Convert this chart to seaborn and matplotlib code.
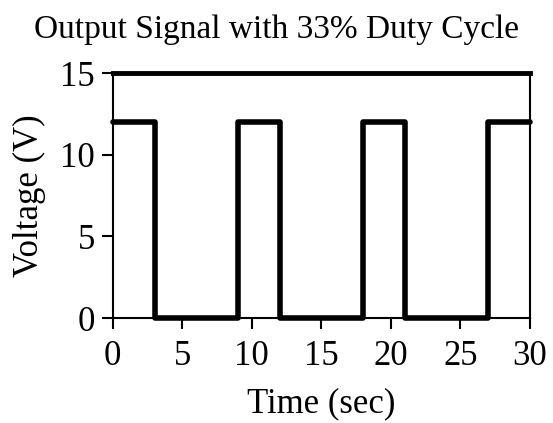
import numpy as np
import matplotlib.pyplot as plt
import pandas as pd
import seaborn as sns

# square wave edges (period 9 s, high for 3 s)
time_sec = [0, 3, 3, 9, 9, 12, 12, 18, 18, 21, 21, 27, 27, 30]
voltage = [12, 12, 0, 0, 12, 12, 0, 0, 12, 12, 0, 0, 12, 12]
x_ticks = [0, 5, 10, 15, 20, 25, 30]
y_ticks = [0, 5, 10, 15]

df = pd.DataFrame({'time': time_sec, 'volt': voltage})

sns.set_style('ticks')
plt.rcParams['font.family'] = ['Liberation Serif', 'DejaVu Serif']
plt.rcParams['text.color'] = 'black'
plt.rcParams['axes.labelcolor'] = 'black'
plt.rcParams['xtick.color'] = 'black'
plt.rcParams['ytick.color'] = 'black'

fig = plt.figure(figsize=(5.53, 4.23), dpi=100)
ax = fig.add_axes([0.204, 0.248, 0.754, 0.579])

sns.lineplot(data=df, x='time', y='volt', sort=False, estimator=None,
             color='black', linewidth=4, ax=ax, clip_on=False)

ax.set_xlim(0, 30)
ax.set_ylim(0, 15)
ax.set_xticks(x_ticks)
ax.set_yticks(y_ticks)
ax.tick_params(labelsize=25, length=8, width=1.5, direction='out', colors='black', pad=5)
ax.tick_params(axis='x', pad=8)
ax.set_xlabel('Time (sec)', fontsize=25, labelpad=10, color='black')
ax.set_ylabel('Voltage (V)', fontsize=25, labelpad=10, color='black')
fig.text(0.5, 0.93, 'Output Signal with 33% Duty Cycle', ha='center', va='center',
         fontsize=24, color='black')

for side in ['left', 'right', 'bottom']:
    ax.spines[side].set_visible(True)
    ax.spines[side].set_linewidth(1.5)
    ax.spines[side].set_color('black')
ax.spines['top'].set_visible(True)
ax.spines['top'].set_linewidth(3.5)
ax.spines['top'].set_color('black')

fig.savefig('out.png', dpi=100)
